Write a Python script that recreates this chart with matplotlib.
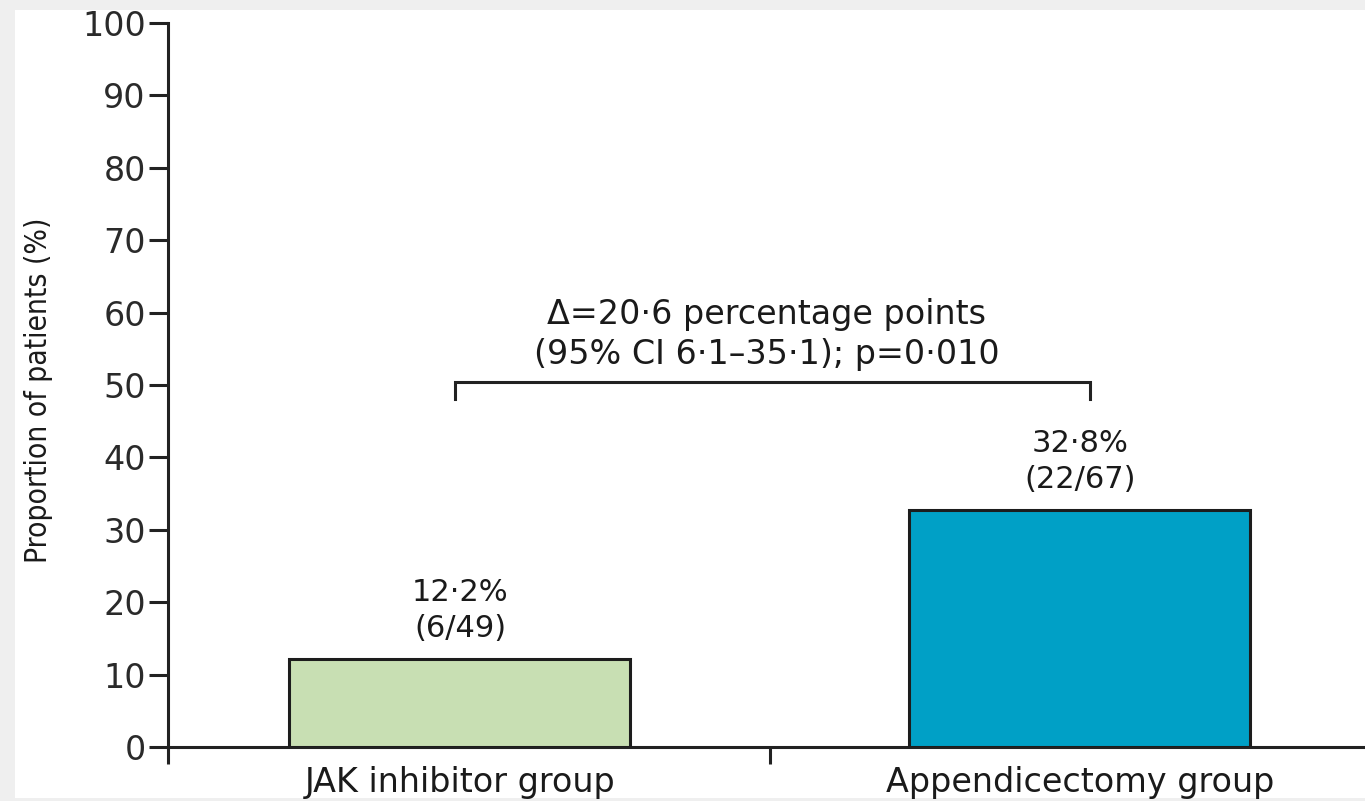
import matplotlib
matplotlib.use("Agg")
import matplotlib.pyplot as plt
from matplotlib.patches import Rectangle

# dane
groups = ["JAK inhibitor group", "Appendicectomy group"]
proportions = [12.2, 32.8]
counts = ["(6/49)", "(22/67)"]
colors = ["#c8dfb3", "#00a0c6"]
y_ticks = [0, 10, 20, 30, 40, 50, 60, 70, 80, 90, 100]
diff_text = "\u0394=20\u00b76 percentage points\n(95% CI 6\u00b71\u201335\u00b71); p=0\u00b7010"

W, H = 1365, 801
fig = plt.figure(figsize=(W / 100, H / 100), dpi=100, facecolor="#efefef")
fig.add_artist(Rectangle((15 / W, 3 / H), 1 - 15 / W, 788 / H,
                         transform=fig.transFigure, facecolor="white",
                         edgecolor="none", zorder=-5))

ax = fig.add_axes([168 / W, (H - 747) / H, 1 - 168 / W, (747 - 23) / H])
ax.set_facecolor("none")

x = [0, 1]
ax.bar(x, proportions, width=0.55, color=colors, edgecolor="#1c1c1c",
       linewidth=2.2, zorder=3)

ax.set_xlim(-0.471, 1.46)
ax.set_ylim(0, 100)

for s in ["top", "right"]:
    ax.spines[s].set_visible(False)
for s in ["left", "bottom"]:
    ax.spines[s].set_linewidth(2.2)
    ax.spines[s].set_color("#222222")

ax.set_yticks(y_ticks)
ax.set_yticklabels([str(v) for v in y_ticks], fontsize=24, color="#2a2a2a",
                   family="DejaVu Sans")
ax.tick_params(axis="y", length=14, width=2.2, color="#222222", pad=2)

# kvačice na x osi: ispod y osi i između grupa
ax.set_xticks([-0.471, 0.5])
ax.set_xticklabels(["", ""])
ax.tick_params(axis="x", length=12, width=2.2, color="#222222")

for xi, g in zip(x, groups):
    ax.text(xi, -2.6, g, ha="center", va="top", fontsize=24,
            family="DejaVu Sans", color="#1a1a1a")

for xi, p, c in zip(x, proportions, counts):
    ax.text(xi, p + 2.2, f"{p:.1f}%".replace(".", "\u00b7") + "\n" + c,
            ha="center", va="bottom", fontsize=22, family="DejaVu Sans",
            color="#1a1a1a", linespacing=1.3)

# zagrada s razlikom
bl, br, by, bd = -0.008, 1.016, 50.4, 48.0
ax.plot([bl, bl, br, br], [bd, by, by, bd], color="#222222", lw=2.2,
        solid_joinstyle="miter", clip_on=False)
ax.text(0.495, by + 1.6, diff_text, ha="center", va="bottom", fontsize=24,
        family="DejaVu Sans", color="#1a1a1a", linespacing=1.25)

ax.set_ylabel("Proportion of patients (%)", fontsize=21.5,
              family="DejaVu Sans", stretch="condensed", color="#1a1a1a")
ax.yaxis.set_label_coords(-0.096, 0.493)

fig.savefig("out.png", dpi=100, facecolor=fig.get_facecolor())
